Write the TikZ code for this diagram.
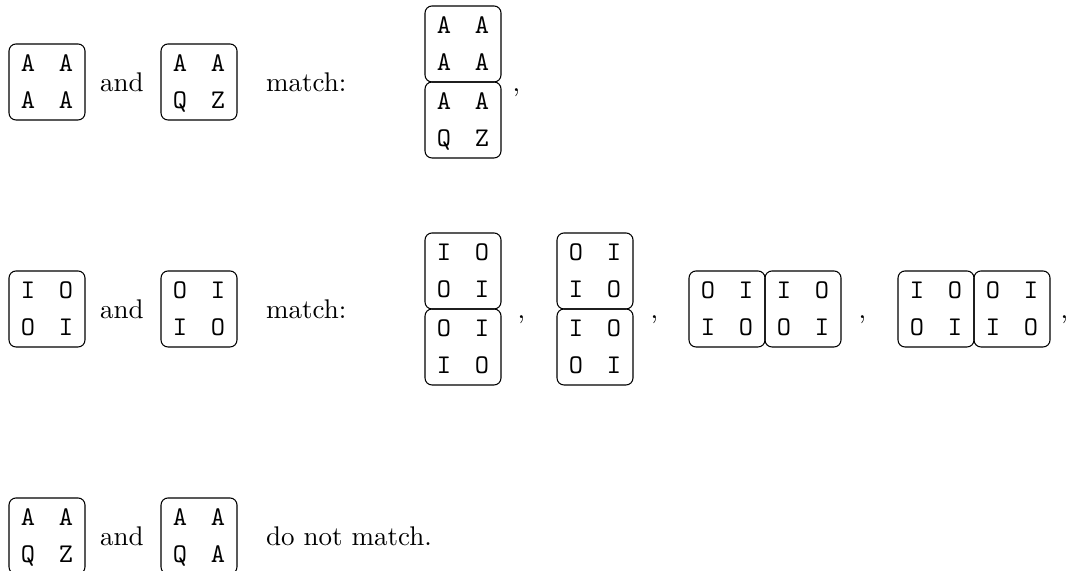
\documentclass[tikz,border=0pt]{standalone}
\usepackage{tikz}
\tikzset{
  tilebox/.style={draw, line width=0.4pt, rounded corners=2.6pt, minimum width=28.15pt, minimum height=28.15pt, inner sep=0pt},
  tch/.style={anchor=base, inner sep=0pt, font=\ttfamily},
  txt/.style={anchor=base west, inner sep=0pt}
}
\newcommand\tile[7]{%
  \node[tilebox] (#1) at (#2,#3) {};
  \node[tch] (#1a) at (#2-19,#3-10.25) {#4};
  \node[tch] (#1b) at (#2+19,#3-10.25) {#5};
  \node[tch] (#1c) at (#2-19,#3+26.75) {#6};
  \node[tch] (#1d) at (#2+19,#3+26.75) {#7};
}
\begin{document}
\begin{tikzpicture}[x=0.37037pt, y=-0.37037pt]
\useasboundingbox (0,0) rectangle (1074,571);
% Row 1
\tile{r1a}{47}{82}{A}{A}{A}{A}
\node[txt] (r1and) at (99.5,92) {and};
\tile{r1b}{199}{82}{A}{A}{Q}{Z}
\node[txt] (r1m) at (265.5,92) {match:};
\tile{r1s1}{463}{44}{A}{A}{A}{A}
\tile{r1s2}{463}{120}{A}{A}{Q}{Z}
\node[txt] (r1c) at (512,92) {,};
% Row 2
\tile{r2a}{47}{309}{I}{O}{O}{I}
\node[txt] (r2and) at (99.5,319) {and};
\tile{r2b}{199}{309}{O}{I}{I}{O}
\node[txt] (r2m) at (265.5,319) {match:};
\tile{r2s1}{463}{271}{I}{O}{O}{I}
\tile{r2s2}{463}{347}{O}{I}{I}{O}
\node[txt] (r2c1) at (517,319) {,};
\tile{r2t1}{595}{271}{O}{I}{I}{O}
\tile{r2t2}{595}{347}{I}{O}{O}{I}
\node[txt] (r2c2) at (650,319) {,};
\tile{r2p1}{727}{309}{O}{I}{I}{O}
\tile{r2p2}{803}{309}{I}{O}{O}{I}
\node[txt] (r2c3) at (858,319) {,};
\tile{r2q1}{936}{309}{I}{O}{O}{I}
\tile{r2q2}{1012}{309}{O}{I}{I}{O}
\node[txt] (r2c4) at (1060,319) {,};
% Row 3
\tile{r3a}{47}{536}{A}{A}{Q}{Z}
\node[txt] (r3and) at (99.5,546) {and};
\tile{r3b}{199}{536}{A}{A}{Q}{A}
\node[txt] (r3m) at (265.5,546) {do not match.};
\end{tikzpicture}
\end{document}
